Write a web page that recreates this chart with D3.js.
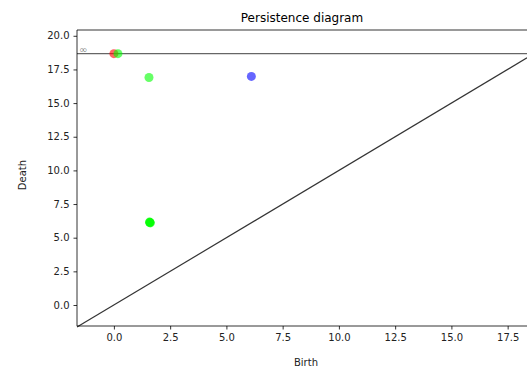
<!DOCTYPE html>
<html>
<head>
<meta charset="utf-8">
<script src="https://cdn.jsdelivr.net/npm/d3@7"></script>
<style>
  body { margin: 0; background: #fff; }
  text { font-family: "DejaVu Sans", sans-serif; }
</style>
</head>
<body>
<svg id="chart" width="527" height="372"></svg>
<script>
// persistence pairs: dimension, birth, death (Infinity = never dies)
const dims   = [0, 1, 1, 2, 1, 1, 1, 1];
const births = [0.0, 0.18, 1.56, 6.11, 1.6, 1.6, 1.62, 1.58];
const deaths = [Infinity, Infinity, 16.9, 16.98, 6.12, 6.14, 6.1, 6.16];
const dimColors = ['#ff0000', '#00ff00', '#0000ff'];
const xTicks = [0, 2.5, 5, 7.5, 10, 12.5, 15, 17.5];
const yTicks = [0, 2.5, 5, 7.5, 10, 12.5, 15, 17.5, 20];
const infinityValue = 18.67;
const axisStart = -1.64;
const axisEnd = 18.36;

const svg = d3.select('#chart');
const margin = { top: 30, right: 0, bottom: 46, left: 77 };
const width = +svg.attr('width') - margin.left - margin.right;
const height = +svg.attr('height') - margin.top - margin.bottom;
const g = svg.append('g').attr('transform', `translate(${margin.left}, ${margin.top})`);

const x = d3.scaleLinear().domain([axisStart, axisEnd]).range([0, width]);
const y = d3.scaleLinear().domain([-1.56, 20.43]).range([height, 0]);

const fmt = d3.format('.1f');

const xAxis = g.append('g')
    .attr('transform', `translate(0, ${height})`)
    .call(d3.axisBottom(x).tickValues(xTicks).tickFormat(fmt).tickSize(3.5).tickPadding(4));
const yAxis = g.append('g')
    .call(d3.axisLeft(y).tickValues(yTicks).tickFormat(fmt).tickSize(3.5).tickPadding(4));

[xAxis, yAxis].forEach((a) => {
  a.select('.domain').remove();
  a.selectAll('line').attr('stroke', '#000').attr('stroke-width', 0.8);
  a.selectAll('text').attr('font-size', 10).attr('fill', '#222');
});

// spines (right one falls outside the picture)
g.append('line').attr('x1', 0).attr('x2', 0).attr('y1', 0).attr('y2', height)
    .attr('stroke', '#000').attr('stroke-width', 0.8);
g.append('line').attr('x1', 0).attr('x2', width).attr('y1', height).attr('y2', height)
    .attr('stroke', '#000').attr('stroke-width', 0.8);
g.append('line').attr('x1', 0).attr('x2', width).attr('y1', 0).attr('y2', 0)
    .attr('stroke', '#000').attr('stroke-width', 0.8);

// diagonal
g.append('line')
    .attr('x1', x(axisStart)).attr('y1', y(axisStart))
    .attr('x2', x(axisEnd)).attr('y2', y(axisEnd))
    .attr('stroke', '#000').attr('stroke-opacity', 0.8).attr('stroke-width', 1.2);

// infinity line
g.append('line')
    .attr('x1', x(axisStart)).attr('x2', width)
    .attr('y1', y(infinityValue)).attr('y2', y(infinityValue))
    .attr('stroke', '#000').attr('stroke-opacity', 0.6).attr('stroke-width', 1.2);
g.append('text')
    .attr('x', x(axisStart) + 2).attr('y', y(infinityValue) - 1)
    .attr('font-size', 10).attr('fill', '#000').attr('fill-opacity', 0.5)
    .text('∞');

const points = dims.map((d, i) => ({ dim: d, birth: births[i], death: deaths[i] }));
g.selectAll('circle.pt').data(points).enter().append('circle')
    .attr('class', 'pt')
    .attr('cx', (d) => x(d.birth))
    .attr('cy', (d) => y(isFinite(d.death) ? d.death : infinityValue))
    .attr('r', 4.5)
    .attr('fill', (d) => dimColors[d.dim])
    .attr('fill-opacity', 0.6);

svg.append('text')
    .attr('x', margin.left + width / 2).attr('y', 22)
    .attr('text-anchor', 'middle').attr('font-size', 12).attr('fill', '#000')
    .text('Persistence diagram');
svg.append('text')
    .attr('x', margin.left + width / 2 + 4).attr('y', 366)
    .attr('text-anchor', 'middle').attr('font-size', 10).attr('fill', '#222')
    .text('Birth');
svg.append('text')
    .attr('transform', `translate(26, ${margin.top + height / 2 - 3}) rotate(-90)`)
    .attr('text-anchor', 'middle').attr('font-size', 10).attr('fill', '#222')
    .text('Death');
</script>
</body>
</html>
